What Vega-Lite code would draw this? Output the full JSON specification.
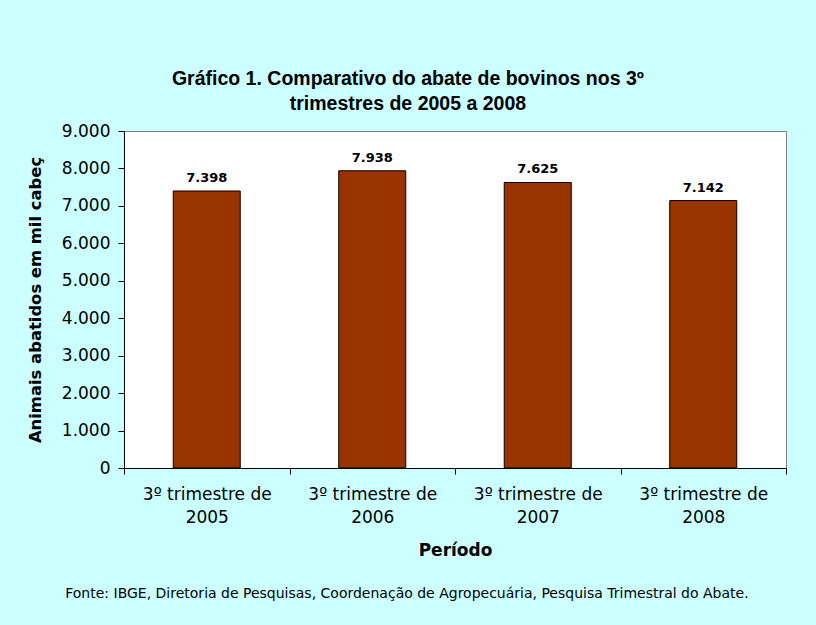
{
  "$schema": "https://vega.github.io/schema/vega-lite/v6.json",
  "background": "#CCFFFF",
  "padding": {"left": 26, "top": 69, "right": 30, "bottom": 40},
  "config": {
    "locale": {"number": {"decimal": ",", "thousands": ".", "grouping": [3], "currency": ["R$", ""]}},
    "view": {"fill": "white", "stroke": "#808080", "strokeWidth": 1},
    "font": "DejaVu Sans"
  },
  "title": {
    "text": ["Gráfico 1. Comparativo do abate de bovinos nos 3º", "trimestres de 2005 a 2008"],
    "font": "Liberation Sans",
    "fontSize": 19.5,
    "fontWeight": "bold",
    "color": "#000000",
    "lineHeight": 25,
    "offset": 7,
    "anchor": "middle",
    "frame": "bounds",
    "dx": 1
  },
  "vconcat": [
    {
      "width": 662,
      "height": 337,
      "title": {
        "text": "Fonte: IBGE, Diretoria de Pesquisas, Coordenação de Agropecuária, Pesquisa Trimestral do Abate.",
        "orient": "bottom",
        "font": "DejaVu Sans",
        "fontSize": 14,
        "fontWeight": "normal",
        "color": "#000000",
        "offset": 29,
        "anchor": "middle",
        "frame": "bounds"
      },
      "data": {
        "values": [
          {"periodo": "3º trimestre de 2005", "abate": 7398},
          {"periodo": "3º trimestre de 2006", "abate": 7938},
          {"periodo": "3º trimestre de 2007", "abate": 7625},
          {"periodo": "3º trimestre de 2008", "abate": 7142}
        ]
      },
      "encoding": {
        "x": {
          "field": "periodo",
          "type": "nominal",
          "sort": null,
          "scale": {"paddingInner": 0, "paddingOuter": 0},
          "axis": {
            "title": "Período",
            "titleFont": "DejaVu Sans",
            "titleFontSize": 17,
            "titleFontWeight": "bold",
            "titleColor": "#000000",
            "titlePadding": 17,
            "labelFont": "DejaVu Sans",
            "labelFontSize": 17,
            "labelColor": "#000000",
            "labelAngle": 0,
            "labelExpr": "[substring(datum.label, 0, 15), substring(datum.label, 16)]",
            "labelLineHeight": 23,
            "labelPadding": 12,
            "labelOverlap": false,
            "labelBound": false,
            "tickBand": "extent",
            "tickSize": 6,
            "tickColor": "#000000",
            "domainColor": "#000000"
          }
        },
        "y": {
          "field": "abate",
          "type": "quantitative",
          "scale": {"domain": [0, 9000], "nice": false},
          "axis": {
            "title": "Animais abatidos em mil cabeç",
            "titleFont": "DejaVu Sans",
            "titleFontSize": 16.4,
            "titleFontWeight": "bold",
            "titleColor": "#000000",
            "titlePadding": 18,
            "labelFont": "DejaVu Sans",
            "labelFontSize": 17,
            "labelColor": "#000000",
            "labelPadding": 8,
            "values": [0, 1000, 2000, 3000, 4000, 5000, 6000, 7000, 8000, 9000],
            "format": ",d",
            "grid": false,
            "tickSize": 6,
            "tickColor": "#000000",
            "domainColor": "#000000"
          }
        }
      },
      "layer": [
        {
          "mark": {"type": "bar", "width": {"band": 0.405}, "fill": "#993300", "stroke": "#000000", "strokeWidth": 1}
        },
        {
          "mark": {"type": "text", "baseline": "alphabetic", "dy": -9, "font": "DejaVu Sans", "fontSize": 13, "fontWeight": "bold", "color": "#000000"},
          "encoding": {"text": {"field": "abate", "type": "quantitative", "format": ","}}
        }
      ]
    }
  ]
}
